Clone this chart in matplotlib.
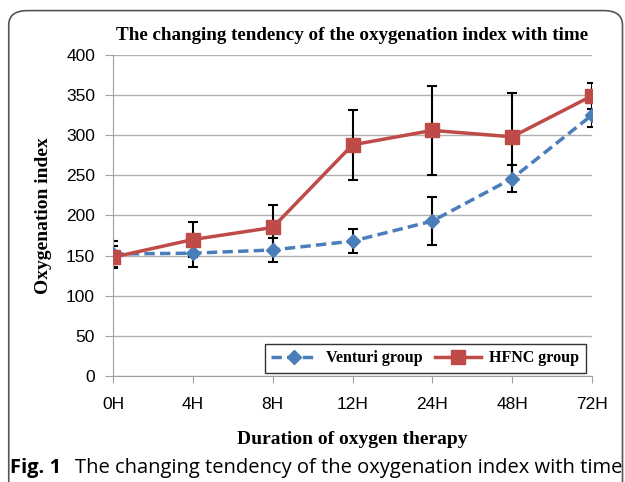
import matplotlib.pyplot as plt
from matplotlib.patches import FancyBboxPatch

times = ['0H', '4H', '8H', '12H', '24H', '48H', '72H']
venturi = [152, 153, 157, 168, 193, 246, 325]
venturi_err = [16, 17, 15, 15, 30, 17, 15]
hfnc = [148, 170, 185, 288, 306, 298, 349]
hfnc_err = [14, 22, 28, 44, 55, 55, 16]

serif = ['Liberation Serif', 'DejaVu Serif']
sans = ['Liberation Sans', 'DejaVu Sans']

fig = plt.figure(figsize=(6.25, 4.82), dpi=100)
ax = fig.add_axes([0.181, 0.22, 0.766, 0.666])

x = list(range(len(times)))
ax.errorbar(x, venturi, yerr=venturi_err, fmt='none', ecolor='black',
            elinewidth=1.5, capsize=3.5, capthick=1.5, zorder=2)
ax.errorbar(x, hfnc, yerr=hfnc_err, fmt='none', ecolor='black',
            elinewidth=1.5, capsize=3.5, capthick=1.5, zorder=2)
ax.plot(x, venturi, '--', color='#4a7ebb', linewidth=2.5, marker='D',
        markersize=7.5, dashes=(3, 1.5), label='Venturi group', zorder=3)
ax.plot(x, hfnc, '-', color='#be4b48', linewidth=2.5, marker='s',
        markersize=10, label='HFNC group', zorder=4)

ax.set_xlim(0, 6)
ax.set_ylim(0, 400)
ax.set_yticks(range(0, 401, 50))
ax.set_xticks(x)
ax.set_xticklabels(times)
ax.grid(axis='y', color='#b0b0b0', linewidth=1)
ax.set_axisbelow(True)
for s in ['top', 'right']:
    ax.spines[s].set_visible(False)
for s in ['left', 'bottom']:
    ax.spines[s].set_color('#a0a0a0')
ax.tick_params(axis='y', length=6, color='#a0a0a0', pad=7)
ax.tick_params(axis='x', length=5, color='#a0a0a0', pad=10)
for lbl in ax.get_xticklabels() + ax.get_yticklabels():
    lbl.set_fontfamily(sans)
    lbl.set_fontsize(12.5)

ax.set_title('The changing tendency of the oxygenation index with time',
             fontfamily=serif, fontweight='bold', fontsize=13.7, pad=11)
ax.set_ylabel('Oxygenation index', fontfamily=serif, fontweight='bold',
              fontsize=14, labelpad=10)
ax.set_xlabel('Duration of oxygen therapy', fontfamily=serif,
              fontweight='bold', fontsize=14, labelpad=14)

leg = ax.legend(loc='lower right', ncol=2, bbox_to_anchor=(0.987, 0.01),
                borderaxespad=0,
                prop={'family': serif, 'weight': 'bold', 'size': 11.5},
                frameon=True, fancybox=False, handlelength=2.9,
                columnspacing=0.8, borderpad=0.4, handletextpad=0.5)
leg.get_frame().set_edgecolor('black')
leg.get_frame().set_linewidth(1)

# outer frame and caption
frame = FancyBboxPatch((0.014, -0.05), 0.982, 1.028,
                       boxstyle='round,pad=0,rounding_size=0.03',
                       transform=fig.transFigure, fill=False,
                       edgecolor='#555555', linewidth=1.2, clip_on=False)
fig.patches.append(frame)
fig.text(0.016, 0.018, 'Fig. 1', fontfamily='Open Sans', fontweight='bold',
         fontsize=14.5)
fig.text(0.12, 0.018, 'The changing tendency of the oxygenation index with time',
         fontfamily='Open Sans', fontsize=14.5)

fig.savefig('out.png', dpi=100)
